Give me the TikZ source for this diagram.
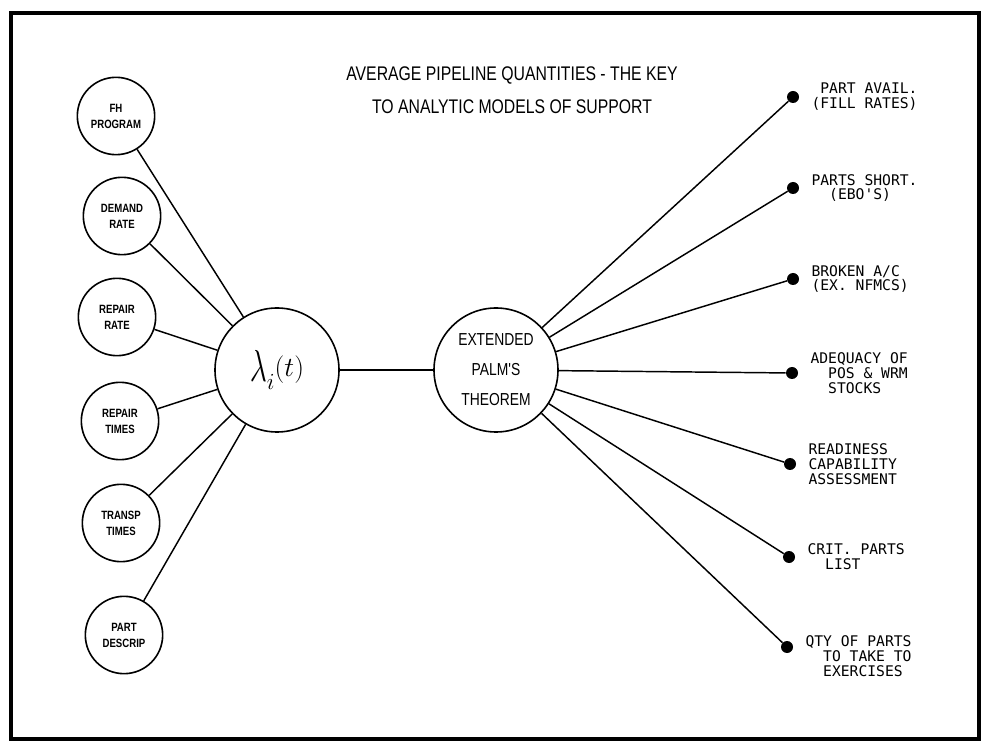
\documentclass[tikz,border=0pt]{standalone}
\usepackage{fontspec}
\usetikzlibrary{positioning}
\newfontfamily\condfont[FakeStretch=0.8]{Liberation Sans}
\newfontfamily\monofont{DejaVu Sans Mono}
\newcommand{\ind}{\phantom{X}}

\begin{document}
\begin{tikzpicture}[x=0.75pt,y=-0.75pt]

\tikzset{vertex/.style = {shape=circle,draw,line width=1.2pt,minimum size=58pt,inner sep=0pt,align=center,font=\condfont\bfseries\fontsize{9}{12}\selectfont}}
\tikzset{hub/.style = {shape=circle,draw,line width=1.2pt,minimum size=93pt,inner sep=0pt,align=center}}
\tikzset{dot/.style = {shape=circle,fill=black,minimum size=9pt,inner sep=0pt}}
\tikzset{outlabel/.style = {anchor=west,inner sep=0pt,align=left,font=\monofont\fontsize{11}{11.2}\selectfont}}
\tikzset{edge/.style = {line width=1.1pt}}

\useasboundingbox (0,0) rectangle (982,741);
\draw[line width=3.2pt] (11,13) rectangle (979,739);

%title
\node[align=center,font=\condfont\fontsize{14.8}{25}\selectfont] (title) at (512,90)
  {AVERAGE PIPELINE QUANTITIES - THE KEY\\TO ANALYTIC MODELS OF SUPPORT};

%verticies
\node[vertex] (fh) at (116,116) {FH\\PROGRAM};
\node[vertex] (dr) at (122,216) {DEMAND\\RATE};
\node[vertex] (rr) at (117,317) {REPAIR\\RATE};
\node[vertex] (rt) at (120,421) {REPAIR\\TIMES};
\node[vertex] (tt) at (121,523) {TRANSP\\TIMES};
\node[vertex] (pd) at (124,635) {PART\\DESCRIP};
\node[hub] (lam) at (277,370) {\scalebox{0.9}[1.35]{\fontsize{30}{30}\selectfont$\lambda$}\raisebox{-6pt}{\fontsize{16}{16}\selectfont$i$}\raisebox{4pt}{\fontsize{21}{21}\selectfont$(t)$}};
\node[hub,font=\condfont\fontsize{13}{22.5}\selectfont] (palm) at (496,370) {EXTENDED\\PALM'S\\THEOREM};

\node[dot] (d1) at (793,97) {};
\node[dot] (d2) at (793,188) {};
\node[dot] (d3) at (793,279) {};
\node[dot] (d4) at (792,373) {};
\node[dot] (d5) at (790,464) {};
\node[dot] (d6) at (789,557) {};
\node[dot] (d7) at (787,647) {};

%labels
\node[outlabel, right=9pt of d1] (l1) {\ind PART AVAIL.\\(FILL RATES)};
\node[outlabel, right=9pt of d2] (l2) {PARTS SHORT.\\\ind\ind(EBO'S)};
\node[outlabel, right=9pt of d3] (l3) {BROKEN A/C\\(EX. NFMCS)};
\node[outlabel, right=9pt of d4] (l4) {ADEQUACY OF\\\ind\ind POS \& WRM\\\ind\ind STOCKS};
\node[outlabel, right=9pt of d5] (l5) {READINESS\\CAPABILITY\\ASSESSMENT};
\node[outlabel, right=9pt of d6] (l6) {CRIT. PARTS\\\ind\ind LIST};
\node[outlabel, right=9pt of d7, yshift=-7pt] (l7) {QTY OF PARTS\\\ind\ind TO TAKE TO\\\ind\ind EXERCISES};

%edges
\foreach \n in {fh,dr,rr,rt,tt,pd}
  \path[edge] (\n) edge (lam);
\path[edge] (lam) edge (palm);
\foreach \n in {d1,d2,d3,d4,d5,d6,d7}
  \path[edge] (palm) edge (\n);

\end{tikzpicture}
\end{document}
